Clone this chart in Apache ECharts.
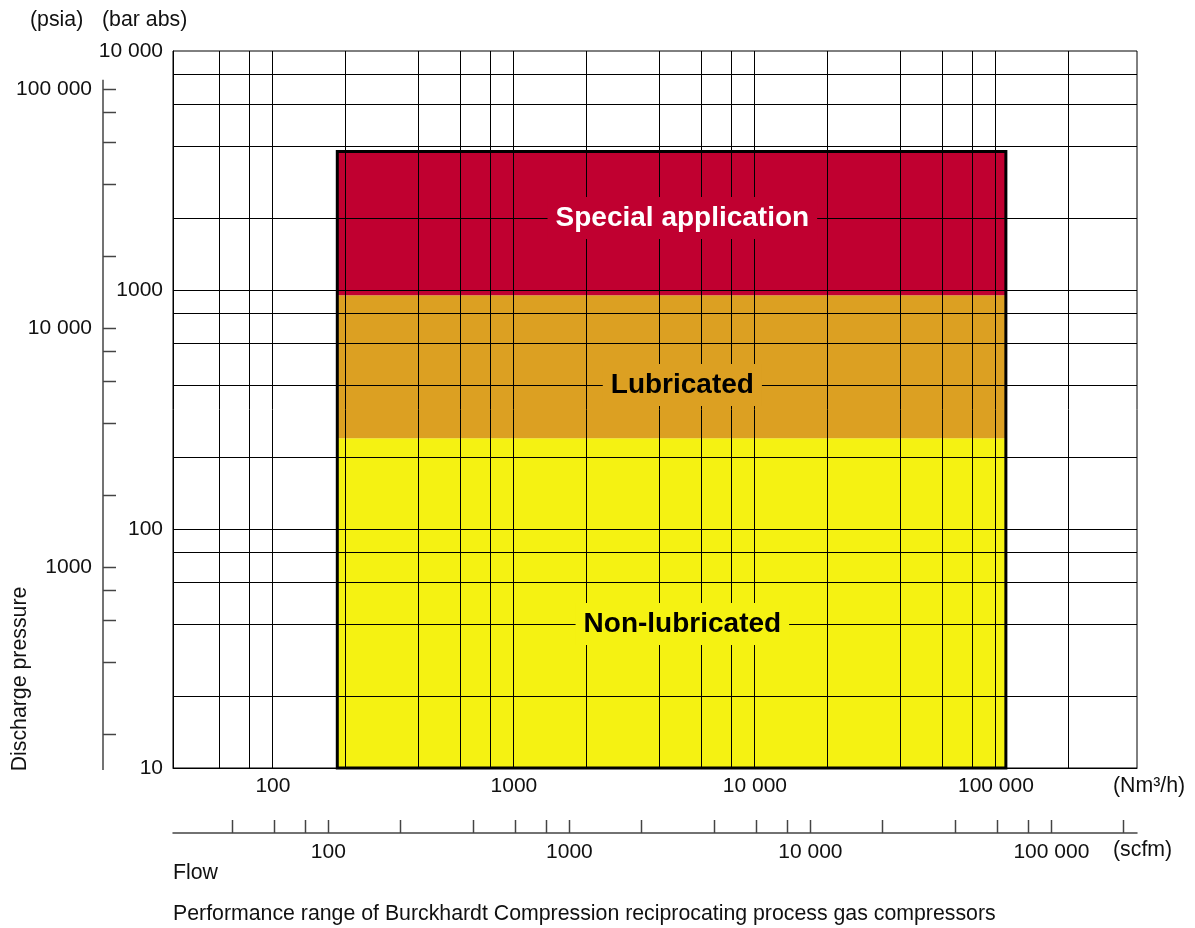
<!DOCTYPE html>
<html>
<head>
<meta charset="utf-8">
<script src="https://cdn.jsdelivr.net/npm/echarts@6/dist/echarts.min.js"></script>
<style>
  html, body { margin: 0; padding: 0; background: #fff; }
  #chart { width: 1195px; height: 928px; }
</style>
</head>
<body>
<div id="chart"></div>
<script>
// ---- Flow, Nm³/h: labelled decades and grid lines
const flowLabels = [100, 1000, 10000, 100000];
const flowGrid = [60, 80, 100, 200, 400, 600, 800, 1000, 2000, 4000, 6000, 8000,
                  10000, 20000, 40000, 60000, 80000, 100000, 200000];

// ---- Flow, scfm: labels and ticks of the second scale
const scfmLabels = [100, 1000, 10000, 100000];
const scfmTicks = [40, 60, 80, 100, 200, 400, 600, 800, 1000, 2000, 4000, 6000, 8000,
                   10000, 20000, 40000, 60000, 80000, 100000, 200000];

// ---- Discharge pressure, bar abs
const barLabels = [10, 100, 1000, 10000];
const barGrid = [20, 40, 60, 80, 100, 200, 400, 600, 800, 1000, 2000, 4000, 6000, 8000];

// ---- Discharge pressure, psia
const psiaLabels = [1000, 10000, 100000];
const psiaTicks = [200, 400, 600, 800, 1000, 2000, 4000, 6000, 8000,
                   10000, 20000, 40000, 60000, 80000, 100000];
const psiaAxisTop = 110000;

// ---- Operating ranges of the compressors
const zoneNames = ['Non-lubricated', 'Lubricated', 'Special application'];
const zonePressureFrom = [10, 240, 950];     // bar abs
const zonePressureTo = [240, 950, 3800];     // bar abs
const zoneFlowFrom = [185, 185, 185];        // Nm³/h
const zoneFlowTo = [110000, 110000, 110000]; // Nm³/h

// ---- Scale extents and unit conversions
const FLOW_MIN = 38.5, FLOW_MAX = 385000;
const BAR_MIN = 10, BAR_MAX = 10000;
const PSI_PER_BAR = 14.5038;
const NM3H_PER_SCFM = 1.699;

// ---- Layout and style
const FONT = "'Liberation Sans', Arial, sans-serif";
const TEXT = '#111';
const AXIS_GREY = '#444';
const zoneColors = ['#F5F212', '#DCA022', '#C00030'];
const zoneTextColors = ['#000000', '#000000', '#ffffff'];
const zoneLabelAt = [[5000, 40], [5000, 400], [5000, 2000]];
const PSIA_OFFSET = 70;   // psia scale sits left of the bar scale
const SCFM_OFFSET = 65;   // scfm scale sits below the Nm³/h scale
const TICK_LEN = 13;

const withSpaces = v => v >= 10000 ? String(v).replace(/\B(?=(\d{3})+(?!\d))/g, ' ') : String(v);
const pick = list => v => {
  const t = list.find(t => Math.abs(t - v) / t < 1e-6);
  return t === undefined ? '' : withSpaces(t);
};
const crisp = v => Math.round(v - 0.5) + 0.5;
const textStyle = { fontFamily: FONT, fontSize: 21, color: TEXT };
const titleFont = '21.3px ' + FONT;

const chart = echarts.init(document.getElementById('chart'));

const option = {
  animation: false,
  backgroundColor: '#fff',
  grid: {
    left: 173, right: 58, top: 51, bottom: 160,
    show: true, borderColor: '#000', borderWidth: 1, backgroundColor: 'transparent',
    outerBoundsMode: 'none'
  },
  xAxis: [
    {
      type: 'log', logBase: 10, min: FLOW_MIN, max: FLOW_MAX, position: 'bottom',
      axisLine: { show: true, lineStyle: { color: '#000', width: 1 } },
      axisTick: { show: false },
      splitLine: { show: false },
      axisLabel: Object.assign({ margin: 8, formatter: pick(flowLabels) }, textStyle)
    },
    {
      type: 'log', logBase: 10, min: FLOW_MIN / NM3H_PER_SCFM, max: FLOW_MAX / NM3H_PER_SCFM,
      position: 'bottom', offset: SCFM_OFFSET,
      axisLine: { show: true, lineStyle: { color: AXIS_GREY, width: 1.5 } },
      axisTick: { show: false },
      splitLine: { show: false },
      axisLabel: Object.assign({ margin: 9, formatter: pick(scfmLabels) }, textStyle)
    }
  ],
  yAxis: [
    {
      type: 'log', logBase: 10, min: BAR_MIN, max: BAR_MAX, position: 'left',
      axisLine: { show: true, lineStyle: { color: '#000', width: 1 } },
      axisTick: { show: false },
      splitLine: { show: false },
      axisLabel: Object.assign({ margin: 10, formatter: pick(barLabels) }, textStyle)
    },
    {
      type: 'log', logBase: 10, min: BAR_MIN * PSI_PER_BAR, max: BAR_MAX * PSI_PER_BAR,
      position: 'left', offset: PSIA_OFFSET,
      axisLine: { show: false },
      axisTick: { show: false },
      splitLine: { show: false },
      axisLabel: Object.assign({ margin: 11, formatter: pick(psiaLabels) }, textStyle)
    }
  ],
  graphic: [
    { type: 'text', left: 30, top: 10, style: { text: '(psia)', font: titleFont, fill: TEXT } },
    { type: 'text', left: 102, top: 10, style: { text: '(bar abs)', font: titleFont, fill: TEXT } },
    { type: 'text', x: 20, y: 679, rotation: Math.PI / 2,
      style: { text: 'Discharge pressure', font: titleFont, fill: TEXT, align: 'center', verticalAlign: 'middle' } },
    { type: 'text', left: 1113, top: 776, style: { text: '(Nm³/h)', font: titleFont, fill: TEXT } },
    { type: 'text', left: 1113, top: 840, style: { text: '(scfm)', font: titleFont, fill: TEXT } },
    { type: 'text', left: 173, top: 863, style: { text: 'Flow', font: titleFont, fill: TEXT } },
    { type: 'text', left: 173, top: 904,
      style: { text: 'Performance range of Burckhardt Compression reciprocating process gas compressors',
               font: titleFont, fill: TEXT } }
  ],
  series: [
    // filled operating ranges
    {
      type: 'custom', name: 'zones', xAxisIndex: 0, yAxisIndex: 0, z: 1, clip: false, silent: true,
      data: zoneNames.map((n, i) => ({
        name: n, value: [zoneFlowFrom[i], zoneFlowTo[i], zonePressureFrom[i], zonePressureTo[i]]
      })),
      renderItem: (params, api) => {
        const a = api.coord([api.value(0), api.value(2)]);
        const b = api.coord([api.value(1), api.value(3)]);
        return {
          type: 'rect',
          shape: { x: a[0], y: b[1], width: b[0] - a[0], height: a[1] - b[1] },
          style: { fill: zoneColors[params.dataIndex] }
        };
      }
    },
    // vertical grid lines (Nm³/h)
    {
      type: 'custom', name: 'flowGrid', xAxisIndex: 0, yAxisIndex: 0, z: 2, clip: false, silent: true,
      data: flowGrid.map(v => [v, BAR_MIN]),
      renderItem: (params, api) => {
        const t = api.coord([api.value(0), BAR_MAX]);
        const b = api.coord([api.value(0), BAR_MIN]);
        const x = crisp(t[0]);
        return { type: 'line', shape: { x1: x, y1: t[1], x2: x, y2: b[1] },
                 style: { stroke: '#000', lineWidth: 1 } };
      }
    },
    // horizontal grid lines (bar abs)
    {
      type: 'custom', name: 'pressureGrid', xAxisIndex: 0, yAxisIndex: 0, z: 2, clip: false, silent: true,
      data: barGrid.map(v => [FLOW_MIN, v]),
      renderItem: (params, api) => {
        const l = api.coord([FLOW_MIN, api.value(1)]);
        const r = api.coord([FLOW_MAX, api.value(1)]);
        const y = crisp(l[1]);
        return { type: 'line', shape: { x1: l[0], y1: y, x2: r[0], y2: y },
                 style: { stroke: '#000', lineWidth: 1 } };
      }
    },
    // outline of the whole performance range
    {
      type: 'custom', name: 'rangeOutline', xAxisIndex: 0, yAxisIndex: 0, z: 3, clip: false, silent: true,
      data: [[Math.min(...zoneFlowFrom), Math.max(...zoneFlowTo),
              Math.min(...zonePressureFrom), Math.max(...zonePressureTo)]],
      renderItem: (params, api) => {
        const a = api.coord([api.value(0), api.value(2)]);
        const b = api.coord([api.value(1), api.value(3)]);
        return {
          type: 'rect',
          shape: { x: a[0], y: b[1], width: b[0] - a[0], height: a[1] - b[1] },
          style: { fill: 'none', stroke: '#000', lineWidth: 3 }
        };
      }
    },
    // psia scale: axis line and ticks
    {
      type: 'custom', name: 'psiaTicks', xAxisIndex: 0, yAxisIndex: 1, z: 3, clip: false, silent: true,
      data: psiaTicks.map(v => [FLOW_MIN, v]),
      renderItem: (params, api) => {
        const p = api.coord([FLOW_MIN, api.value(1)]);
        const x = p[0] - PSIA_OFFSET;
        const y = crisp(p[1]);
        return { type: 'line', shape: { x1: x, y1: y, x2: x + TICK_LEN, y2: y },
                 style: { stroke: AXIS_GREY, lineWidth: 1.5 } };
      }
    },
    {
      type: 'custom', name: 'psiaLine', xAxisIndex: 0, yAxisIndex: 1, z: 3, clip: false, silent: true,
      data: [[FLOW_MIN, psiaAxisTop]],
      renderItem: (params, api) => {
        const top = api.coord([FLOW_MIN, api.value(1)]);
        const bot = api.coord([FLOW_MIN, BAR_MIN * PSI_PER_BAR]);
        const x = top[0] - PSIA_OFFSET;
        return { type: 'line', shape: { x1: x, y1: top[1], x2: x, y2: bot[1] + 2 },
                 style: { stroke: AXIS_GREY, lineWidth: 1.5 } };
      }
    },
    // scfm scale ticks
    {
      type: 'custom', name: 'scfmTicks', xAxisIndex: 1, yAxisIndex: 0, z: 3, clip: false, silent: true,
      data: scfmTicks.map(v => [v, BAR_MIN]),
      renderItem: (params, api) => {
        const p = api.coord([api.value(0), BAR_MIN]);
        const x = crisp(p[0]);
        const y = p[1] + SCFM_OFFSET;
        return { type: 'line', shape: { x1: x, y1: y, x2: x, y2: y - TICK_LEN },
                 style: { stroke: AXIS_GREY, lineWidth: 1.5 } };
      }
    },
    // range names
    {
      type: 'scatter', name: 'zoneLabels', xAxisIndex: 0, yAxisIndex: 0, z: 5, silent: true,
      symbolSize: 0,
      itemStyle: { opacity: 1 },
      emphasis: { disabled: true },
      data: zoneNames.map((n, i) => ({
        name: n,
        value: zoneLabelAt[i],
        label: {
          show: true, position: 'inside', formatter: '{b}', opacity: 1,
          fontFamily: FONT, fontSize: 28, fontWeight: 'bold', lineHeight: 32,
          color: zoneTextColors[i], backgroundColor: zoneColors[i], padding: [5, 8]
        }
      }))
    }
  ]
};

chart.setOption(option);
</script>
</body>
</html>
